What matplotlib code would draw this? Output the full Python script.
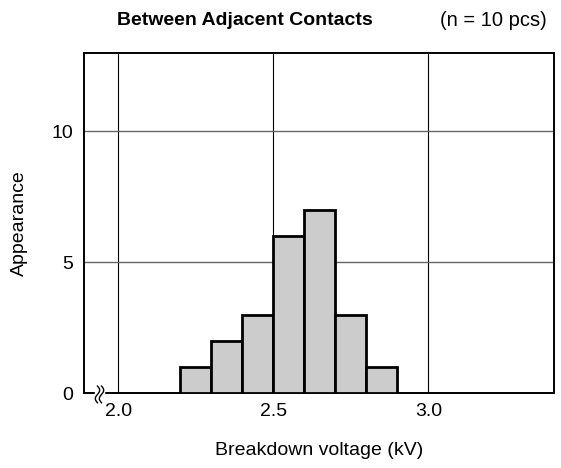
import matplotlib
matplotlib.use("Agg")
import matplotlib.pyplot as plt
import numpy as np

plt.rcParams["font.family"] = ["Liberation Sans", "DejaVu Sans"]

# histogram bins (kV) and counts
bin_left = [2.2, 2.3, 2.4, 2.5, 2.6, 2.7, 2.8]
counts = [1, 2, 3, 6, 7, 3, 1]
bin_width = 0.1

x_ticks = [2.0, 2.5, 3.0]
x_labels = ["2.0", "2.5", "3.0"]
y_ticks = [0, 5, 10]

fig = plt.figure(figsize=(5.61, 4.68), dpi=100)
ax = fig.add_axes([0.150, 0.160, 0.8375, 0.727])

ax.bar(bin_left, counts, width=bin_width, align="edge",
       color="#cccccc", edgecolor="black", linewidth=2.0, zorder=3)

ax.set_xlim(1.89, 3.405)
ax.set_ylim(0, 13)
ax.set_xticks(x_ticks)
ax.set_xticklabels(x_labels)
ax.set_yticks(y_ticks)
ax.tick_params(length=0, labelsize=14, pad=7)
ax.tick_params(axis="y", pad=8)

for x in x_ticks:
    ax.axvline(x, color="black", linewidth=0.8, zorder=1)
for y in y_ticks[1:]:
    ax.axhline(y, color="#666666", linewidth=1.0, zorder=1)

for s in ax.spines.values():
    s.set_linewidth(1.4)

# axis break mark near the origin
t = np.linspace(-1, 1, 30)
ax.fill_between([1.925, 1.953], -0.15, 0.15, color="white",
                zorder=4, clip_on=False)
for x0 in [1.933, 1.946]:
    xs = x0 + 0.007 * np.sin(t * np.pi)
    ys = -0.05 + 0.32 * t
    ax.plot(xs, ys, color="black", linewidth=1.0, zorder=5, clip_on=False)

ax.set_xlabel("Breakdown voltage (kV)", fontsize=14, labelpad=16)
ax.set_ylabel("Appearance", fontsize=14, labelpad=17)

fig.text(0.437, 0.957, "Between Adjacent Contacts", fontsize=14,
         fontweight="bold", ha="center", va="center")
fig.text(0.879, 0.957, "(n = 10 pcs)", fontsize=14.5, ha="center", va="center")

fig.savefig("out.png", dpi=100)
